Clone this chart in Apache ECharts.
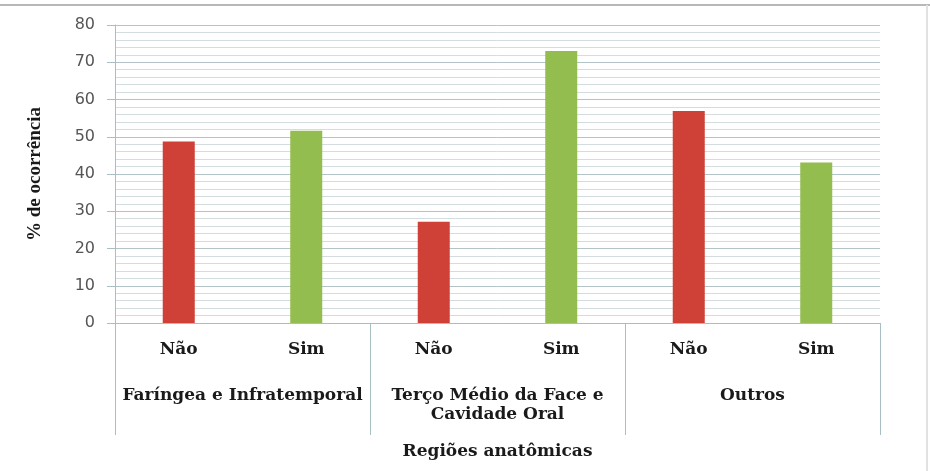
<!DOCTYPE html>
<html>
<head>
<meta charset="utf-8">
<script src="https://cdn.jsdelivr.net/npm/echarts@6/dist/echarts.min.js"></script>
<style>
    html, body { margin: 0; padding: 0; background: #fff; }
    #chart { width: 930px; height: 471px; }
</style>
</head>
<body>
<div id="chart"></div>
<script>
// answer categories (inner axis) and anatomical region groups (outer axis)
const answers = ['Não', 'Sim', 'Não', 'Sim', 'Não', 'Sim']
const regions = ['Faríngea e Infratemporal', 'Terço Médio da Face e\nCavidade Oral', 'Outros']
const percent = [48.7, 51.6, 27.2, 73.0, 56.9, 43.1]
const yTicks = [0, 10, 20, 30, 40, 50, 60, 70, 80]

const red = '#cf4036'
const green = '#93bd4f'
const axisColor = '#a9bec3'

const chart = echarts.init(document.getElementById('chart'))
const option = {
    animation: false,
    backgroundColor: '#fff',
    graphic: [
        { type: 'line', shape: { x1: 0, y1: 5, x2: 930, y2: 5 }, style: { stroke: '#b8b8b8', lineWidth: 2 } },
        { type: 'line', shape: { x1: 927, y1: 5, x2: 927, y2: 471 }, style: { stroke: '#e2e2e2', lineWidth: 2 } }
    ],
    grid: { left: 115, right: 50, top: 25, bottom: 148 },
    xAxis: [
        {
            type: 'category',
            data: answers,
            axisLine: { show: true, lineStyle: { color: axisColor, width: 1 } },
            axisTick: { show: false },
            axisLabel: {
                interval: 0,
                margin: 18,
                fontFamily: 'DejaVu Serif',
                fontWeight: 'bold',
                fontSize: 17,
                color: '#1a1a1a'
            }
        },
        {
            type: 'category',
            data: regions,
            position: 'bottom',
            gridIndex: 0,
            axisLine: { show: false },
            axisTick: { show: true, interval: 0, length: 112, lineStyle: { color: axisColor, width: 1 } },
            axisLabel: {
                interval: 0,
                margin: 63,
                fontFamily: 'DejaVu Serif',
                fontWeight: 'bold',
                fontSize: 17,
                lineHeight: 19,
                color: '#1a1a1a'
            },
            name: 'Regiões anatômicas',
            nameLocation: 'middle',
            nameGap: 120,
            nameTextStyle: {
                fontFamily: 'DejaVu Serif',
                fontWeight: 'bold',
                fontSize: 17,
                color: '#1a1a1a'
            }
        }
    ],
    yAxis: {
        type: 'value',
        min: yTicks[0],
        max: yTicks[yTicks.length - 1],
        interval: 10,
        name: '% de ocorrência',
        nameLocation: 'middle',
        nameRotate: 90,
        nameGap: 70,
        nameTextStyle: {
            fontFamily: 'Liberation Serif',
            fontWeight: 'bold',
            fontSize: 19,
            color: '#1a1a1a'
        },
        axisLine: { show: true, lineStyle: { color: axisColor, width: 1 } },
        axisTick: { show: true, length: 8, lineStyle: { color: axisColor } },
        axisLabel: {
            margin: 20,
            fontFamily: 'DejaVu Sans',
            fontSize: 16,
            color: '#555'
        },
        splitLine: { show: true, lineStyle: { color: '#b3c4c8', width: 1 } },
        minorTick: { show: false, splitNumber: 5 },
        minorSplitLine: { show: true, lineStyle: { color: '#d3dddf', width: 1 } }
    },
    series: [
        {
            type: 'bar',
            barWidth: 32,
            xAxisIndex: 0,
            data: percent.map((v, i) => ({
                value: v,
                itemStyle: { color: i % 2 === 0 ? red : green }
            }))
        }
    ]
}
chart.setOption(option, true)
</script>
</body>
</html>
